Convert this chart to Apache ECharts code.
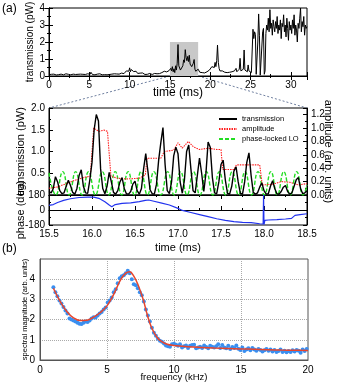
<!DOCTYPE html>
<html>
<head>
<meta charset="utf-8">
<script src="https://cdn.jsdelivr.net/npm/echarts@6/dist/echarts.min.js"></script>
<style>
html, body { margin: 0; padding: 0; background: #fff; }
#main { width: 339px; height: 386px; }
</style>
</head>
<body>
<div id="main"></div>
<script>
// (a) top: full transmission trace, sampled every 0.1 ms from 0 ms
var overviewStart = 0, overviewStep = 0.1;
var overviewTrans = [
	0.08,0.12,0.06,0.10,0.15,0.07,0.11,0.09,0.13,0.06,
	0.10,0.14,0.08,0.12,0.05,0.11,0.16,0.09,0.07,0.12,
	0.09,0.13,0.06,0.15,0.10,0.08,0.12,0.07,0.14,0.09,
	0.11,0.06,0.13,0.09,0.15,0.08,0.10,0.12,0.07,0.11,
	0.14,0.08,0.10,0.06,0.12,0.09,0.16,0.10,0.13,0.07,
	0.18,0.10,0.22,0.12,0.08,0.14,0.10,0.07,0.12,0.09,
	0.11,0.06,0.10,0.13,0.08,0.12,0.07,0.10,0.14,0.08,
	0.10,0.13,0.07,0.11,0.15,0.09,0.12,0.08,0.11,0.14,
	0.09,0.13,0.10,0.16,0.12,0.08,0.15,0.11,0.18,0.13,
	0.17,0.12,0.20,0.14,0.25,0.18,0.30,0.22,0.35,0.28,
	0.48,0.25,0.38,0.30,0.42,0.26,0.33,0.20,0.28,0.18,
	0.15,0.20,0.12,0.17,0.10,0.14,0.18,0.11,0.15,0.09,
	0.12,0.16,0.10,0.13,0.08,0.15,0.11,0.14,0.09,0.17,
	0.12,0.15,0.10,0.18,0.13,0.16,0.20,0.14,0.22,0.17,
	0.20,0.25,0.18,0.28,0.22,0.30,0.24,0.35,0.26,0.32,
	0.28,0.45,0.30,0.55,0.25,0.42,0.20,0.60,0.35,0.75,
	1.85,0.60,0.52,0.35,0.45,0.32,0.60,0.95,0.80,1.55,
	1.10,0.90,1.15,0.85,1.22,0.70,0.80,0.55,0.65,0.75,
	0.97,0.40,0.28,0.35,0.25,0.40,0.30,0.22,0.25,0.18,
	0.20,0.15,0.22,0.18,0.28,0.20,0.25,0.30,0.22,0.35,
	0.40,0.30,0.55,0.45,0.60,0.50,0.80,0.55,0.90,1.82,
	0.80,0.45,0.30,0.35,0.25,0.30,0.20,0.28,0.22,0.18,
	0.25,0.20,0.30,0.18,0.22,0.28,0.20,0.25,0.15,0.22,
	0.30,0.20,0.45,0.25,0.35,0.22,0.40,1.04,0.30,0.25,
	0.28,0.40,1.53,0.35,0.45,0.30,0.25,0.65,0.30,0.25,
	0.35,0.20,0.30,2.75,2.20,2.60,2.45,0.10,0.05,2.00,
	3.65,2.40,0.05,0.05,0.10,2.60,2.80,0.10,0.30,2.50,
	3.00,2.70,3.40,2.60,3.90,2.80,3.10,2.40,3.30,2.90,
	2.60,3.20,2.80,3.50,2.50,3.00,2.70,3.30,2.20,3.10,
	2.90,3.60,2.60,3.00,2.30,3.40,2.80,2.10,3.20,2.70,
	3.00,2.50,3.30,2.80,3.60,2.40,3.00,2.70,2.00,3.10,
	2.80,3.40,4.00,2.60,3.20,2.90,3.50,2.40,3.00,2.80,
	2.90
];

// (a) zoom: transmission every 0.025 ms from 15.5 ms
var zoomStart = 15.5, zoomStep = 0.025;
var zoomTrans = [
	0.08,0.05,0.15,0.42,0.30,0.10,0.03,0.05,0.20,0.34,
	0.22,0.06,0.02,0.15,0.45,0.58,0.20,0.05,0.04,0.35,
	0.75,1.50,1.85,1.70,0.60,0.15,0.03,0.20,0.52,0.30,
	0.06,0.02,0.10,0.30,0.40,0.15,0.03,0.02,0.08,0.25,
	0.32,0.10,0.02,0.15,0.60,0.95,0.55,0.12,0.03,0.02,
	0.25,0.80,1.20,1.55,0.70,0.10,0.03,0.30,0.90,1.10,
	0.95,0.30,0.04,0.35,1.00,1.15,0.60,0.10,0.05,0.45,
	0.85,0.50,0.08,0.50,1.22,1.10,0.40,0.05,0.03,0.30,
	0.70,0.80,0.35,0.04,0.02,0.20,0.55,0.65,0.30,0.04,
	0.02,0.30,0.75,0.97,0.45,0.06,0.02,0.05,0.18,0.28,
	0.10,0.02,0.03,0.20,0.33,0.15,0.03,0.02,0.08,0.18,
	0.22,0.08,0.02,0.05,0.20,0.35,0.40,0.15,0.03,0.05,
	0.10
];

// amplitude (arb. units), [time ms, value]
var amplitude = [
	[15.50,0.10],[15.60,0.12],[15.70,0.17],[15.80,0.22],[15.90,0.26],[15.98,0.28],
	[16.02,1.00],[16.08,0.95],[16.14,0.97],[16.18,0.95],[16.22,0.28],[16.30,0.25],
	[16.40,0.24],[16.55,0.25],[16.62,0.30],[16.64,0.55],[16.80,0.55],[16.84,0.65],
	[16.95,0.67],[17.00,0.78],[17.05,0.70],[17.12,0.80],[17.18,0.72],[17.25,0.68],
	[17.35,0.70],[17.45,0.68],[17.50,0.68],[17.52,0.38],[17.65,0.38],[17.68,0.45],
	[17.95,0.45],[17.98,0.15],[18.10,0.16],[18.20,0.20],[18.30,0.19],[18.40,0.15],
	[18.50,0.17]
];

// phase-locked LO, [time ms, value]
var loRef = [
	[15.50,0.33],[15.58,0.0],[15.66,0.35],[15.735,0.0],[15.81,0.35],[15.885,0.0],
	[15.96,0.35],[16.04,0.0],[16.12,0.35],[16.195,0.0],[16.27,0.35],[16.345,0.0],
	[16.42,0.35],[16.495,0.0],[16.57,0.35],[16.645,0.0],[16.72,0.35],[16.80,0.0],
	[16.88,0.35],[16.955,0.0],[17.03,0.35],[17.105,0.0],[17.18,0.35],[17.255,0.0],
	[17.33,0.35],[17.405,0.0],[17.48,0.35],[17.555,0.0],[17.63,0.35],[17.705,0.0],
	[17.78,0.35],[17.855,0.0],[17.93,0.35],[18.005,0.0],[18.08,0.35],[18.155,0.0],
	[18.23,0.35],[18.305,0.0],[18.38,0.35],[18.455,0.0],[18.50,0.15]
];

// phase (deg), [time ms, value]
var phase = [
	[15.50,55],[15.55,65],[15.60,90],[15.67,115],[15.75,135],[15.85,150],[15.95,155],
	[16.02,155],[16.08,140],[16.15,100],[16.20,60],[16.23,40],[16.27,65],[16.35,80],
	[16.45,85],[16.55,100],[16.62,115],[16.66,120],[16.72,105],[16.80,85],[16.90,60],
	[17.00,20],[17.05,-5],[17.15,-30],[17.25,-55],[17.35,-80],[17.45,-105],[17.55,-125],
	[17.65,-140],[17.75,-148],[17.85,-152],[17.95,-165],[17.99,-168],[17.995,180],
	[18.00,-175],[18.01,-125],[18.05,-120],[18.15,-115],[18.25,-108],[18.32,-100],
	[18.36,-65],[18.38,-85],[18.42,-55],[18.50,-45]
];

// (b) spectrum, every 0.15 kHz from 1 kHz
var specStart = 1.0, specStep = 0.15;
var specMag = [
	3.60,3.35,3.15,2.95,2.80,2.62,2.45,2.30,2.05,2.00,
	1.95,1.90,1.85,1.80,1.78,1.85,1.90,1.88,1.95,2.05,
	2.12,2.10,2.20,2.30,2.38,2.50,2.60,2.85,2.95,3.10,
	3.35,3.50,3.80,4.05,4.15,4.20,4.30,4.42,4.30,4.00,
	3.75,3.70,3.55,3.35,3.20,2.90,2.50,2.20,1.90,1.60,
	1.35,1.20,1.05,0.95,0.90,0.82,0.72,0.68,0.65,0.78,
	0.80,0.75,0.70,0.78,0.62,0.68,0.72,0.60,0.70,0.74,
	0.76,0.58,0.62,0.66,0.60,0.72,0.64,0.58,0.70,0.66,
	0.62,0.68,0.78,0.60,0.74,0.62,0.58,0.70,0.55,0.64,
	0.60,0.72,0.56,0.50,0.62,0.44,0.52,0.58,0.48,0.60,
	0.52,0.46,0.55,0.50,0.42,0.48,0.54,0.46,0.52,0.42,
	0.50,0.40,0.45,0.52,0.40,0.46,0.38,0.44,0.40,0.48,
	0.42,0.50,0.46,0.36,0.52,0.44,0.55
];

// fitted curve
var fitFreq = [1.0,1.5,2.0,2.5,3.0,3.5,4.0,4.5,5.0,5.5,6.0,6.4,6.7,7.0,7.3,7.7,8.0,8.3,8.7,9.0,9.5,10,11,12,13,14,15,16,17,18,19,20];
var fitMag  = [3.55,2.90,2.40,2.08,1.95,1.97,2.12,2.35,2.68,3.25,3.95,4.30,4.37,4.15,3.75,3.00,2.25,1.65,1.15,0.95,0.78,0.72,0.66,0.62,0.59,0.57,0.55,0.53,0.51,0.49,0.48,0.47];

var FONT = '"Liberation Sans", Arial, Helvetica, sans-serif';
var chart = echarts.init(document.getElementById('main'));

function series1D(start, step, vals) {
	return vals.map(function(v, i) { return [+(start + i * step).toFixed(4), v]; });
}
function fix1(v) { return v.toFixed(1); }

var blackAxisLine = { show: true, lineStyle: { color: '#000', width: 1 } };
function inTicks(len) {
	return { show: true, inside: true, length: len || 4, lineStyle: { color: '#000', width: 1 } };
}
function minorTicks() {
	return { show: true, splitNumber: 2, length: 2, lineStyle: { color: '#000', width: 1 } };
}
function labels(extra) {
	var o = { color: '#000', fontSize: 10, fontFamily: FONT, margin: 4 };
	for (var k in extra) o[k] = extra[k];
	return o;
}
var noLabel = { show: false };
var nameStyle = { color: '#000', fontSize: 11, fontFamily: FONT };

var option = {
	animation: false,
	backgroundColor: '#fff',
	textStyle: { fontFamily: FONT },
	grid: [
		{ left: 49, top: 8, width: 258, height: 68, show: true, borderColor: '#000', borderWidth: 1, outerBoundsMode: 'none' },
		{ left: 49, top: 108, width: 258, height: 87, show: true, borderColor: '#000', borderWidth: 1, outerBoundsMode: 'none' },
		{ left: 49, top: 195, width: 258, height: 30, show: true, borderColor: '#000', borderWidth: 1, outerBoundsMode: 'none' },
		{ left: 40, top: 259, width: 268, height: 101, show: true, borderColor: '#555', borderWidth: 1, outerBoundsMode: 'none' }
	],
	legend: {
		orient: 'vertical',
		left: 218,
		top: 115,
		padding: 0,
		itemGap: 2,
		itemWidth: 18,
		itemHeight: 8,
		itemStyle: { opacity: 0 },
		data: ['transmission', 'amplitude', 'phase-locked LO'],
		textStyle: { color: '#000', fontSize: 7.5, fontFamily: FONT }
	},
	xAxis: [
		{ gridIndex: 0, type: 'value', min: 0, max: 32, interval: 5, position: 'bottom',
			axisLine: blackAxisLine, axisTick: inTicks(4), minorTick: minorTicks(), splitLine: { show: false },
			axisLabel: labels({ showMaxLabel: false }),
			name: 'time (ms)', nameLocation: 'middle', nameGap: 11, nameMoveOverlap: false,
			nameTextStyle: { color: '#000', fontSize: 12, fontFamily: FONT } },
		{ gridIndex: 0, type: 'value', min: 0, max: 32, interval: 5, position: 'top',
			axisLine: blackAxisLine, axisTick: inTicks(4), minorTick: minorTicks(), splitLine: { show: false }, axisLabel: noLabel },
		{ gridIndex: 1, type: 'value', min: 15.5, max: 18.5, interval: 0.5, position: 'top',
			axisLine: blackAxisLine, axisTick: inTicks(4), minorTick: minorTicks(), splitLine: { show: false }, axisLabel: noLabel },
		{ gridIndex: 1, type: 'value', min: 15.5, max: 18.5, interval: 0.5, position: 'bottom',
			axisLine: blackAxisLine, axisTick: { show: false }, splitLine: { show: false }, axisLabel: noLabel },
		{ gridIndex: 2, type: 'value', min: 15.5, max: 18.5, interval: 0.5, position: 'bottom',
			axisLine: blackAxisLine, axisTick: inTicks(4), minorTick: minorTicks(), splitLine: { show: false },
			axisLabel: labels({ formatter: fix1 }),
			name: 'time (ms)', nameLocation: 'middle', nameGap: 17, nameMoveOverlap: false,
			nameTextStyle: { color: '#000', fontSize: 11, fontFamily: FONT } },
		{ gridIndex: 3, type: 'value', min: 0, max: 20, interval: 5, position: 'bottom',
			axisLine: { show: true, lineStyle: { color: '#555', width: 1 } }, axisTick: { show: false },
			splitLine: { show: true, lineStyle: { color: '#aaa', type: 'dotted', width: 1 } },
			axisLabel: labels({ margin: 5 }),
			name: 'frequency (kHz)', nameLocation: 'middle', nameGap: 12, nameMoveOverlap: false,
			nameTextStyle: { color: '#000', fontSize: 9.5, fontFamily: FONT } }
	],
	yAxis: [
		{ gridIndex: 0, type: 'value', min: 0, max: 4, interval: 1, position: 'left',
			axisLine: blackAxisLine, axisTick: inTicks(4), minorTick: minorTicks(), splitLine: { show: false },
			axisLabel: labels({}),
			name: 'transmission (pW)', nameLocation: 'middle', nameGap: 14, nameMoveOverlap: false,
			nameTextStyle: { color: '#000', fontSize: 10, fontFamily: FONT } },
		{ gridIndex: 0, type: 'value', min: 0, max: 4, interval: 1, position: 'right',
			axisLine: blackAxisLine, axisTick: inTicks(4), minorTick: minorTicks(), splitLine: { show: false }, axisLabel: noLabel },
		{ gridIndex: 1, type: 'value', min: 0, max: 2, interval: 0.5, position: 'left',
			axisLine: blackAxisLine, axisTick: inTicks(4), minorTick: minorTicks(), splitLine: { show: false },
			axisLabel: labels({ formatter: fix1, showMinLabel: false }),
			name: 'transmission (pW)', nameLocation: 'middle', nameGap: 23, nameMoveOverlap: false, nameTextStyle: nameStyle },
		{ gridIndex: 1, type: 'value', min: 0, max: 1.3, interval: 0.2, position: 'right',
			axisLine: blackAxisLine, axisTick: inTicks(4), minorTick: minorTicks(), splitLine: { show: false },
			axisLabel: labels({ formatter: fix1, showMaxLabel: false }),
			name: 'amplitude (arb. units)', nameLocation: 'middle', nameGap: 16, nameRotate: -90, nameMoveOverlap: false,
			nameTextStyle: nameStyle },
		{ gridIndex: 2, type: 'value', min: -180, max: 180, interval: 180, position: 'left',
			axisLine: blackAxisLine, axisTick: inTicks(4), minorTick: minorTicks(), splitLine: { show: false },
			axisLabel: labels({}),
			name: 'phase (deg)', nameLocation: 'middle', nameGap: 23, nameMoveOverlap: false, nameTextStyle: nameStyle },
		{ gridIndex: 2, type: 'value', min: -180, max: 180, interval: 180, position: 'right',
			axisLine: blackAxisLine, axisTick: inTicks(4), minorTick: minorTicks(), splitLine: { show: false }, axisLabel: noLabel },
		{ gridIndex: 3, type: 'value', min: 0, max: 5, interval: 1, position: 'left',
			axisLine: { show: true, lineStyle: { color: '#555', width: 1 } }, axisTick: { show: false },
			splitLine: { show: true, lineStyle: { color: '#aaa', type: 'dotted', width: 1 } },
			axisLabel: labels({ showMaxLabel: false, margin: 5 }),
			name: 'spectral magnitude (arb. units)', nameLocation: 'middle', nameGap: 11, nameMoveOverlap: false,
			nameTextStyle: { color: '#000', fontSize: 7.5, fontFamily: FONT } }
	],
	series: [
		{
			type: 'line', xAxisIndex: 0, yAxisIndex: 0, symbol: 'none',
			data: series1D(overviewStart, overviewStep, overviewTrans),
			lineStyle: { color: '#000', width: 1 },
			markArea: {
				silent: true,
				itemStyle: { color: '#c8c8c8' },
				data: [[{ xAxis: 15, yAxis: 0 }, { xAxis: 18.5, yAxis: 2 }]]
			}
		},
		{
			name: 'phase-locked LO', type: 'line', xAxisIndex: 2, yAxisIndex: 3, symbol: 'none', smooth: 0.5,
			data: loRef, color: '#22dd22',
			lineStyle: { color: '#22dd22', width: 1.4, type: [4, 2] }
		},
		{
			name: 'amplitude', type: 'line', xAxisIndex: 2, yAxisIndex: 3, symbol: 'none',
			data: amplitude, color: '#ff2020',
			lineStyle: { color: '#ff2020', width: 1.1, type: [1.5, 1] }
		},
		{
			name: 'transmission', type: 'line', xAxisIndex: 2, yAxisIndex: 2, symbol: 'none',
			data: series1D(zoomStart, zoomStep, zoomTrans), color: '#000',
			lineStyle: { color: '#000', width: 1.4 }
		},
		{
			name: 'phase', type: 'line', xAxisIndex: 4, yAxisIndex: 4, symbol: 'none',
			data: phase, lineStyle: { color: '#2233ee', width: 1.2 }
		},
		{
			name: 'spectrum', type: 'scatter', xAxisIndex: 5, yAxisIndex: 6,
			data: series1D(specStart, specStep, specMag), symbolSize: 4,
			itemStyle: { color: '#3a8ff0', opacity: 1 }
		},
		{
			name: 'fit', type: 'line', xAxisIndex: 5, yAxisIndex: 6, symbol: 'none', smooth: 0.4,
			data: fitFreq.map(function(f, i) { return [f, fitMag[i]]; }),
			lineStyle: { color: '#e8452c', width: 1.5 }
		}
	]
};

chart.setOption(option);

// dashed lines joining the grey box to the zoomed panel
var a1 = chart.convertToPixel({ xAxisIndex: 0, yAxisIndex: 0 }, [15, 0]);
var a2 = chart.convertToPixel({ xAxisIndex: 0, yAxisIndex: 0 }, [18.5, 0]);
var b1 = chart.convertToPixel({ xAxisIndex: 2, yAxisIndex: 2 }, [15.5, 2]);
var b2 = chart.convertToPixel({ xAxisIndex: 2, yAxisIndex: 2 }, [18.5, 2]);
var dash = { stroke: '#7080a0', lineWidth: 1, lineDash: [2, 2] };

chart.setOption({
	graphic: [
		{ type: 'line', shape: { x1: a1[0], y1: a1[1], x2: b1[0], y2: b1[1] }, style: dash, silent: true },
		{ type: 'line', shape: { x1: a2[0], y1: a2[1], x2: b2[0], y2: b2[1] }, style: dash, silent: true },
		{ type: 'text', left: 2, top: 3, style: { text: '(a)', fontSize: 12, fontFamily: FONT, fill: '#000' } },
		{ type: 'text', left: 2, top: 243, style: { text: '(b)', fontSize: 12, fontFamily: FONT, fill: '#000' } }
	]
});

window.onresize = function() {
	chart.resize();
};
</script>
</body>
</html>
